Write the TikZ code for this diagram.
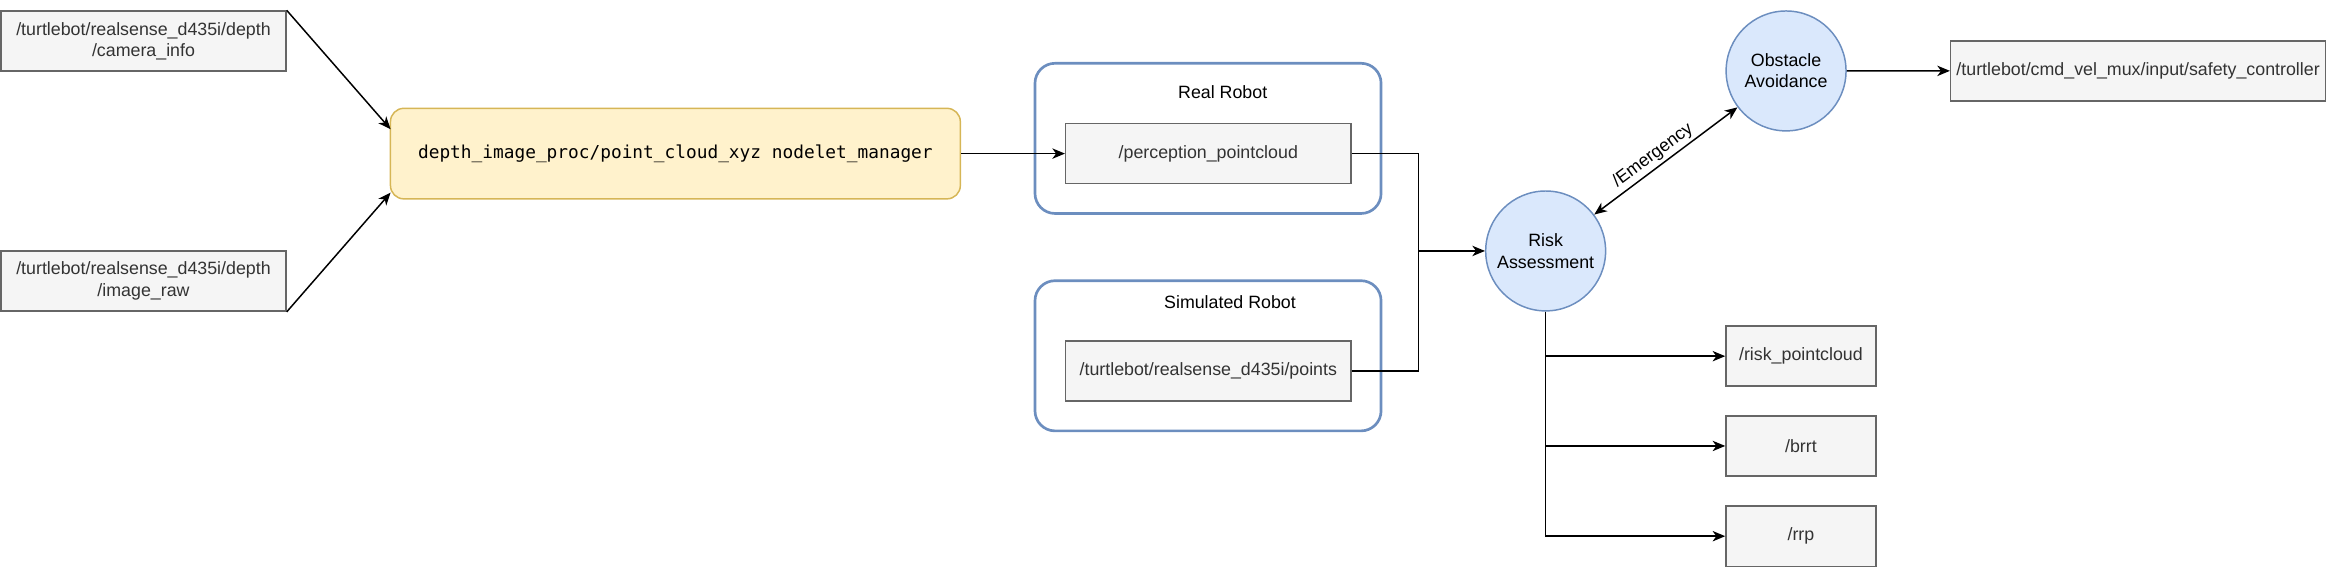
\documentclass[tikz,border=0pt]{standalone}
\usepackage{fontspec}
\setmainfont{Liberation Sans}
\newfontfamily\codefont{DejaVu Sans Mono}
\usetikzlibrary{arrows.meta,calc}
\definecolor{gfill}{HTML}{F5F5F5}
\definecolor{gline}{HTML}{666666}
\definecolor{gtext}{HTML}{333333}
\definecolor{yfill}{HTML}{FFF2CC}
\definecolor{yline}{HTML}{D6B656}
\definecolor{bfill}{HTML}{DAE8FC}
\definecolor{bline}{HTML}{6C8EBF}
\begin{document}
\begin{tikzpicture}[x=1pt,y=-1pt,
  font=\fontsize{12}{14.4}\selectfont,
  topic/.style={draw=gline, fill=gfill, text=gtext, line width=1pt,
    minimum height=40.5pt, inner sep=0pt, align=center},
  nodebox/.style={draw=yline, fill=yfill, line width=1pt, rounded corners=9pt,
    minimum width=384pt, minimum height=61pt, inner sep=0pt, font=\codefont\fontsize{12}{14.4}\selectfont},
  robotbox/.style={draw=bline, line width=1.8pt, rounded corners=13.5pt,
    minimum width=233.2pt, minimum height=101.2pt, inner sep=0pt},
  proc/.style={circle, draw=bline, fill=bfill, line width=1pt,
    minimum size=80.8pt, inner sep=0pt, align=center},
  conn/.style={line width=1pt, -{Stealth[length=8.5pt,width=7pt,inset=2.5pt]}},
  plainconn/.style={line width=1pt},
  biconn/.style={line width=1pt, {Stealth[length=8.5pt,width=7pt,inset=2.5pt]}-{Stealth[length=8.5pt,width=7pt,inset=2.5pt]}},
  lbl/.style={inner sep=0pt}
]
\useasboundingbox (0,0) rectangle (1568,382.06);

% left inputs
\node[topic, minimum width=192pt] (caminfo) at (96.7,27.7)
  {/turtlebot/realsense\_d435i/depth\\/camera\_info};
\node[topic, minimum width=192pt] (imgraw) at (96.7,189.4)
  {/turtlebot/realsense\_d435i/depth\\/image\_raw};

% nodelet manager
\node[nodebox] (mgr) at (455.1,103.5)
  {depth\_image\_proc/point\_cloud\_xyz nodelet\_manager};
\coordinate (mgrin1) at (263.2,87.1);
\coordinate (mgrin2) at (263.2,129.8);

% robot containers
\node[robotbox] (real) at (814,93.25) {};
\node[lbl] (reallbl) at (823.9,61.8) {Real Robot};
\node[topic, minimum width=192.2pt] (percep) at (814.2,103.5) {/perception\_pointcloud};

\node[robotbox] (sim) at (814,239.75) {};
\node[lbl] (simlbl) at (828.8,203.3) {Simulated Robot};
\node[topic, minimum width=192.2pt] (points) at (814.2,250) {/turtlebot/realsense\_d435i/points};

% processes
\node[proc] (risk) at (1041.5,169.1) {Risk\\Assessment};
\node[proc] (obs) at (1203.5,47.8) {Obstacle\\Avoidance};

% outputs
\node[topic, minimum width=252.6pt] (safety) at (1440.7,47.75)
  {/turtlebot/cmd\_vel\_mux/input/safety\_controller};
\node[topic, minimum width=101pt] (riskpc) at (1213.5,240) {/risk\_pointcloud};
\node[topic, minimum width=101pt] (brrt) at (1213.5,300.5) {/brrt};
\node[topic, minimum width=101pt] (rrp) at (1213.5,361.3) {/rrp};

\coordinate (join) at (955.7,169.1);

% connectors
\draw[conn] (caminfo.north east) -- (mgrin1);
\draw[conn] (imgraw.south east) -- (mgrin2);
\draw[conn] (mgr.east) -- (percep.west);
\draw[plainconn] (percep.east) -| (join);
\draw[plainconn] (points.east) -| (join);
\draw[conn] (join) -- (risk.west);
\draw[biconn] (risk) -- node[pos=0.46, sloped, above=2pt, inner sep=0pt] (emlbl) {/Emergency} (obs);
\draw[conn] (obs.east) -- (safety.west);
\draw[conn] (risk.south) |- (riskpc.west);
\draw[conn] (risk.south) |- (brrt.west);
\draw[conn] (risk.south) |- (rrp.west);
\end{tikzpicture}
\end{document}
